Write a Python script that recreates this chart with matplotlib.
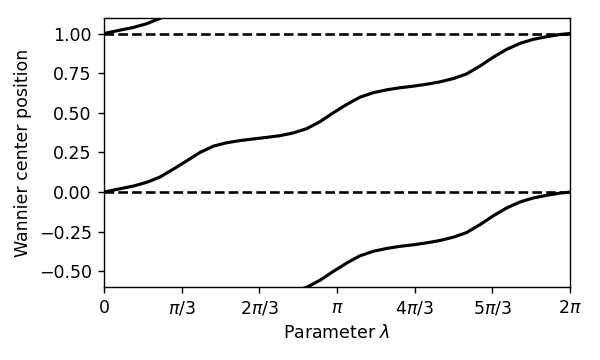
import numpy as np
import matplotlib
matplotlib.use("Agg")
import matplotlib.pyplot as plt

# Parameter lambda as a fraction of 2*pi
lam_frac = [0.000, 0.034, 0.063, 0.092, 0.120, 0.149, 0.177, 0.206, 0.235, 0.263,
            0.292, 0.320, 0.349, 0.378, 0.406, 0.435, 0.464, 0.492, 0.521, 0.549,
            0.578, 0.607, 0.635, 0.664, 0.692, 0.721, 0.750, 0.778, 0.807, 0.835,
            0.864, 0.893, 0.921, 0.950, 0.979, 1.000]
# Wannier center position
wcc = [0.000, 0.021, 0.038, 0.062, 0.095, 0.145, 0.196, 0.250, 0.290, 0.311,
       0.325, 0.335, 0.345, 0.356, 0.373, 0.400, 0.445, 0.500, 0.553, 0.598,
       0.627, 0.645, 0.658, 0.668, 0.680, 0.695, 0.716, 0.745, 0.795, 0.850,
       0.900, 0.938, 0.963, 0.980, 0.994, 1.000]
# Periodic images shown
image_shifts = [-1, 0, 1]
dashed_levels = [0.0, 1.0]

xtick_vals = [0, 1/3, 2/3, 1, 4/3, 5/3, 2]  # in units of pi
xtick_labels = ["0", r"$\pi/3$", r"$2\pi/3$", r"$\pi$", r"$4\pi/3$", r"$5\pi/3$", r"$2\pi$"]
ytick_vals = [-0.5, -0.25, 0.0, 0.25, 0.5, 0.75, 1.0]

fig = plt.figure(figsize=(4.8, 2.88), dpi=125)
ax = fig.add_axes([0.1733, 0.202, 0.7767, 0.749])

lam = 2 * np.pi * np.array(lam_frac)
w = np.array(wcc)
for s in image_shifts:
    ax.plot(lam, w + s, color="black", lw=1.8, solid_joinstyle="round",
            solid_capstyle="round")
for lev in dashed_levels:
    ax.axhline(lev, color="black", lw=1.5, ls="--")

ax.set_xlim(0, 2 * np.pi)
ax.set_ylim(-0.6, 1.1)
ax.set_xticks([v * np.pi for v in xtick_vals])
ax.set_xticklabels(xtick_labels)
ax.set_yticks(ytick_vals)
ax.set_yticklabels([f"{v:.2f}".replace("-", "\u2212") for v in ytick_vals])
ax.set_xlabel(r"Parameter $\lambda$")
ax.set_ylabel("Wannier center position")

fig.savefig("out.png", dpi=125)
